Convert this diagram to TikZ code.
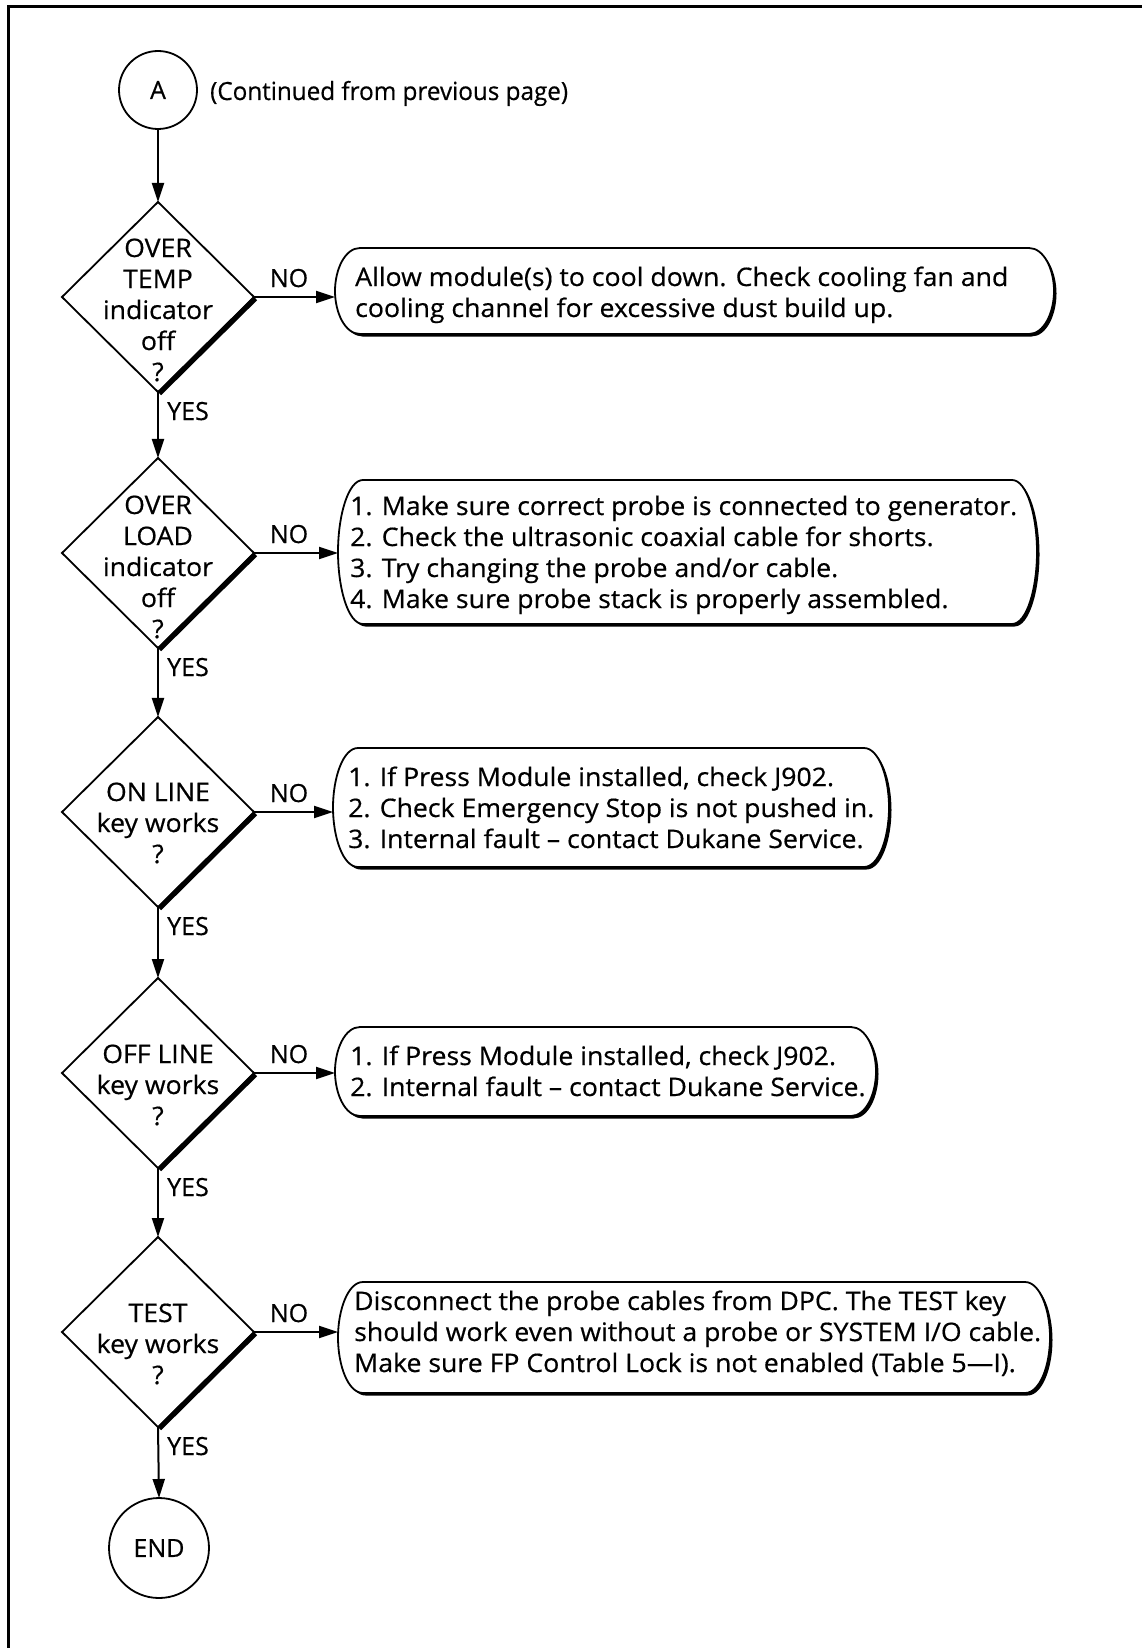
\documentclass[tikz,border=0pt]{standalone}
\usepackage{fontspec}
\setmainfont[RawFeature={embolden=0.5}]{Open Sans}
\newfontfamily\wfont[Ligatures=TeX, FakeStretch=1.045, RawFeature={embolden=0.5}]{Open Sans}
\newfontfamily\cfont[Ligatures=TeX, FakeStretch=0.97, RawFeature={embolden=0.5}]{Open Sans}
\usetikzlibrary{arrows.meta,shapes.geometric}
\pgfdeclarelayer{bg}
\pgfsetlayers{bg,main}
\newcommand\txt{\fontsize{25}{31}\selectfont}
\newcommand\btxt{\wfont\fontsize{25.5}{31}\selectfont}
\newcommand\ctxt{\cfont\fontsize{25}{31}\selectfont}
\newcommand\mlines[2]{\begin{tabular}[t]{@{}#1@{}}#2\end{tabular}}
% xL yT xR yB options
\newcommand\bubbleshape[5]{%
  \pgfmathsetmacro\bq{(#4-#2)/4}%
  \pgfmathsetmacro\bm{(#4+#2)/2}%
  \path[#5] ({#1+25},#2) -- ({#3-25},#2)
    .. controls ({#3-10},#2) and (#3,{#2+\bq}) .. (#3,\bm)
    .. controls (#3,{#4-\bq}) and ({#3-10},#4) .. ({#3-25},#4)
    -- ({#1+25},#4)
    .. controls ({#1+10},#4) and (#1,{#4-\bq}) .. (#1,\bm)
    .. controls (#1,{#2+\bq}) and ({#1+10},#2) .. cycle;
}
\newcommand\bubble[5]{% name xL yT xR yB
  \bubbleshape{#2}{#3}{#4}{#5}{fill=black, shift={(2.5,2.5)}}
  \bubbleshape{#2}{#3}{#4}{#5}{draw, fill=white, line width=1.8pt}
  \pgfmathsetmacro\bw{#4-#2}\pgfmathsetmacro\bh{#5-#3}
  \node[inner sep=0pt, outer sep=0pt, minimum width=\bw pt, minimum height=\bh pt]
    (#1) at ({(#2+#4)/2},{(#3+#5)/2}) {};
}
\begin{document}
\begin{tikzpicture}[x=1pt,y=-1pt,
  conn/.style={line width=2pt, -{Triangle[length=19pt,width=12pt]}},
  dia/.style={diamond, aspect=1, minimum width=192pt, minimum height=190pt,
    inner sep=0pt, outer sep=0pt, draw, line width=1.8pt, fill=white},
  term/.style={circle, draw, line width=1.8pt, fill=white, inner sep=0pt, outer sep=0pt},
  lbl/.style={inner sep=0pt, font=\txt},
  blbl/.style={inner sep=0pt, font=\btxt},
  dshadow/.style={line width=5pt, line cap=butt}]
\useasboundingbox (0,0) rectangle (1142,1648);
\fill[white] (0,0) rectangle (1142,1648);
% frame
\draw[line width=3.5pt, line join=miter] (8.5,1648) -- (8.5,6.5) -- (1142,6.5);

% terminals
\node[term, minimum size=78pt, font=\txt] (a) at (158,90) {A};
\node[inner sep=0pt, font=\ctxt, anchor=base west] (cont) at (210,100) {(Continued from previous page)};
\node[term, minimum size=100pt, font=\txt] (end) at (159,1548) {END};

% decisions
\node[dia] (d1) at (158,297) {};
\node[dia] (d2) at (158,553) {};
\node[dia] (d3) at (158,812) {};
\node[dia] (d4) at (158,1073) {};
\node[dia] (d5) at (158,1332) {};
\foreach \d in {d1,d2,d3,d4,d5}{
  \draw[dshadow] ([shift={(1.4,1.4)}]\d.east) -- ([shift={(1.4,1.4)}]\d.south);
}
\node[blbl, anchor=base] (t1) at (158,257) {\mlines{c}{OVER\\TEMP\\indicator\\off\\?}};
\node[blbl, anchor=base] (t2) at (158,514) {\mlines{c}{OVER\\LOAD\\indicator\\off\\?}};
\node[blbl, anchor=base] (t3) at (158,801) {\mlines{c}{ON LINE\\key works\\?}};
\node[blbl, anchor=base] (t4) at (158,1063) {\mlines{c}{OFF LINE\\key works\\?}};
\node[blbl, anchor=base] (t5) at (158,1322) {\mlines{c}{TEST\\key works\\?}};

% action boxes
\bubble{b1}{335}{248}{1054}{334}
\bubble{b2}{338}{480}{1037}{624}
\bubble{b3}{333}{748}{889}{867}
\bubble{b4}{335}{1027}{876}{1116}
\bubble{b5}{338}{1282}{1050}{1393}
\node[blbl, anchor=base west] (x1) at (355,286) {\mlines{l}{Allow module(s) to cool down. Check cooling fan and\\cooling channel for excessive dust build up.}};
\node[blbl, anchor=base west] (x2) at (350,515) {\mlines{l}{1. Make sure correct probe is connected to generator.\\2. Check the ultrasonic coaxial cable for shorts.\\3. Try changing the probe and/or cable.\\4. Make sure probe stack is properly assembled.}};
\node[blbl, anchor=base west] (x3) at (348,786) {\mlines{l}{1. If Press Module installed, check J902.\\2. Check Emergency Stop is not pushed in.\\3. Internal fault – contact Dukane Service.}};
\node[blbl, anchor=base west] (x4) at (350,1065) {\mlines{l}{1. If Press Module installed, check J902.\\2. Internal fault – contact Dukane Service.}};
\node[blbl, anchor=base west] (x5) at (354,1310) {\mlines{l}{Disconnect the probe cables from DPC. The TEST key\\should work even without a probe or SYSTEM I/O cable.\\Make sure FP Control Lock is not enabled (Table 5—I).}};

\begin{pgfonlayer}{bg}
  \fill ([shift={(2.5,2.5)}]a.center) circle[radius=39pt];
  \fill ([shift={(2.5,2.5)}]end.center) circle[radius=50pt];
\end{pgfonlayer}

% connectors
\draw[conn] (a) -- (d1);
\draw[conn] (d1) -- (d2);
\draw[conn] (d2) -- (d3);
\draw[conn] (d3) -- (d4);
\draw[conn] (d4) -- (d5);
\draw[conn] (d5.south) -- (end.north);
\foreach \i in {1,...,5}{
  \draw[conn] (d\i.east) -- (d\i.east -| b\i.west);
}

% labels
\foreach \i/\y in {1/297,2/553,3/812,4/1073,5/1332}{
  \node[lbl, anchor=base] (no\i) at (289,\y-10) {NO};
}
\foreach \i/\y in {1/392,2/648,3/907,4/1168,5/1427}{
  \node[lbl, anchor=base west] (yes\i) at (167,\y+28) {YES};
}
\end{tikzpicture}
\end{document}
